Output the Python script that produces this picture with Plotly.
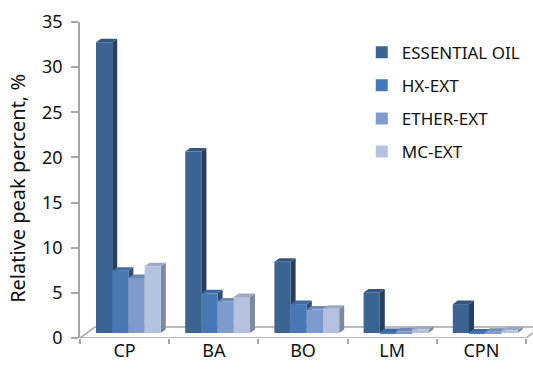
import plotly.graph_objects as go

# Compounds and relative peak percent for each extract
categories = ["CP", "BA", "BO", "LM", "CPN"]
series_names = ["ESSENTIAL OIL", "HX-EXT", "ETHER-EXT", "MC-EXT"]
essential_oil = [32.2, 20.1, 7.9, 4.5, 3.2]
hx_ext = [6.9, 4.4, 3.2, 0.1, 0.05]
ether_ext = [6.1, 3.5, 2.6, 0.2, 0.15]
mc_ext = [7.4, 4.0, 2.7, 0.4, 0.3]
y_ticks = [0, 5, 10, 15, 20, 25, 30, 35]

series_values = [essential_oil, hx_ext, ether_ext, mc_ext]

# front / side / top face colours per series
front_colors = ["#3C6492", "#4879B5", "#7F9BCB", "#B5C2DF"]
side_colors = ["#263F5E", "#2E4E78", "#5B6E93", "#7E899E"]
top_colors = ["#33567F", "#3F6AA0", "#6F89B5", "#9DAAC6"]

FONT = "Noto Sans"
GRAY = "#A6A6A6"
TEXT = "#111111"

# pseudo-3D geometry (data units)
bar_w = 0.1816          # width of one column
first_off = -0.3206     # left edge of first column relative to category centre
plane_base = 0.55       # column plane sits a little behind the front edge of the floor
dx, dy = 0.056, 0.39    # column depth projection
fdx, fdy = 0.168, 1.22  # floor depth projection

fig = go.Figure()
shapes = []


def poly(pts):
    return "M " + " L ".join(f"{x:.4f},{y:.4f}" for x, y in pts) + " Z"


# floor outline
n = len(categories)
shapes.append(dict(
    type="path", xref="x", yref="y", layer="below",
    path=poly([(-0.5, 0), (n - 0.5, 0), (n - 0.5 + fdx, fdy), (-0.5 + fdx, fdy)]),
    line=dict(color=GRAY, width=1.5), fillcolor="rgba(0,0,0,0)",
))

# side and top faces, drawn beneath the column front faces
for ci in range(n):
    for k, vals in enumerate(series_values):
        v = vals[ci]
        xl = ci + first_off + k * bar_w
        xr = xl + bar_w
        b = plane_base
        t = plane_base + v
        shapes.append(dict(
            type="path", xref="x", yref="y", layer="below",
            path=poly([(xr, b), (xr + dx, b + dy), (xr + dx, t + dy), (xr, t)]),
            line=dict(width=0), fillcolor=side_colors[k],
        ))
        shapes.append(dict(
            type="path", xref="x", yref="y", layer="below",
            path=poly([(xl, t), (xl + dx, t + dy), (xr + dx, t + dy), (xr, t)]),
            line=dict(width=0), fillcolor=top_colors[k],
        ))

# column front faces
x_idx = list(range(n))
for k, (name, vals) in enumerate(zip(series_names, series_values)):
    fig.add_trace(go.Bar(
        x=x_idx, y=vals, base=plane_base,
        offset=first_off + k * bar_w, width=bar_w,
        marker=dict(color=front_colors[k], line=dict(width=0)),
        name=name, legendgroup=name,
    ))

fig.update_layout(
    width=533, height=371,
    margin=dict(l=80, r=0, t=22, b=33),
    paper_bgcolor="white", plot_bgcolor="white",
    barmode="overlay",
    shapes=shapes,
    font=dict(family=FONT, color=TEXT),
    showlegend=True,
    legend=dict(
        x=0.622, xanchor="left", y=0.96, yanchor="top",
        font=dict(family=FONT, size=17, color=TEXT),
        tracegroupgap=8, bgcolor="rgba(0,0,0,0)",
    ),
    annotations=[dict(
        text="Relative peak percent, %", textangle=-90,
        x=(18 - 80) / 453, y=0.472, xref="paper", yref="paper",
        xanchor="center", yanchor="middle",
        showarrow=False, font=dict(family=FONT, size=20, color=TEXT),
    )],
)

fig.update_xaxes(
    range=[-0.5, -0.5 + 453 / 89.2],
    tickvals=x_idx, ticktext=categories, ticks="",
    tickfont=dict(family=FONT, size=18, color=TEXT),
    showline=False, showgrid=False, zeroline=False,
    minor=dict(tickvals=[i - 0.5 for i in range(n + 1)], ticks="outside",
               ticklen=5, tickcolor=GRAY, tickwidth=1.5),
)
fig.update_yaxes(
    range=[0, 35], tickvals=y_ticks,
    ticks="outside", ticklen=7, tickcolor=GRAY, tickwidth=1.5,
    showline=True, linecolor=GRAY, linewidth=1.5,
    showgrid=False, zeroline=False, ticklabelstandoff=5,
    tickfont=dict(family=FONT, size=18, color=TEXT),
)

fig.write_html("out.html")
